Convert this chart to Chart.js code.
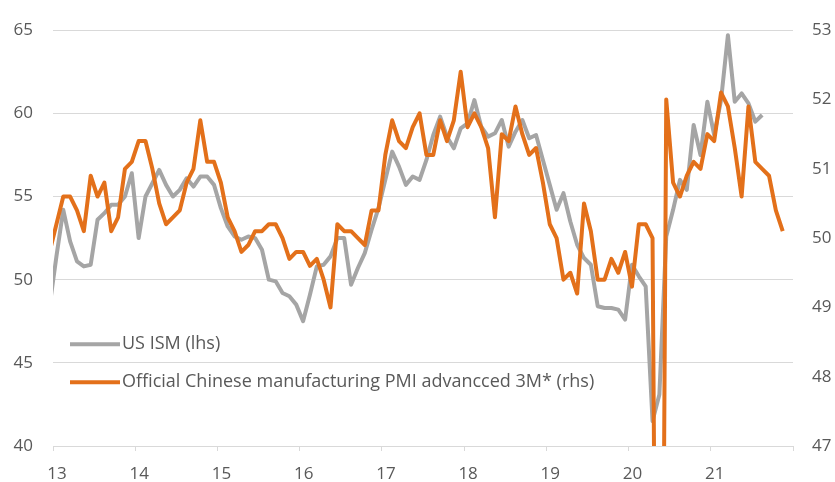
<!DOCTYPE html>
<html>
<head>
<meta charset="utf-8">
<script src="https://cdn.jsdelivr.net/npm/chart.js@4"></script>
<style>
html, body { margin: 0; padding: 0; background: #fff; }
#wrap { width: 835px; height: 482px; }
</style>
</head>
<body>
<div id="wrap"><canvas id="visu" width="835" height="482"></canvas></div>
<script>
// monthly series, first point = Dec 2012 (plotted mid-month)
const firstYear = 12;   // year on the axis, 2-digit
const firstMonth = 11;  // 0 = Jan, 11 = Dec

// US ISM manufacturing (lhs), Dec 2012 .. Aug 2021
const usIsm = [
    48.4,
    51.4, 54.2, 52.3, 51.1, 50.8, 50.9, 53.6, 54.0, 54.5, 54.5, 55.0, 56.4,
    52.5, 55.0, 55.8, 56.6, 55.7, 55.0, 55.4, 56.1, 55.6, 56.2, 56.2, 55.7,
    54.3, 53.2, 52.6, 52.4, 52.6, 52.5, 51.8, 50.0, 49.9, 49.2, 49.0, 48.5,
    47.5, 49.1, 50.8, 50.9, 51.4, 52.5, 52.5, 49.7, 50.7, 51.6, 53.0, 54.3,
    56.0, 57.7, 56.8, 55.7, 56.2, 56.0, 57.2, 58.7, 59.8, 58.6, 57.9, 59.1,
    59.4, 60.8, 59.2, 58.6, 58.8, 59.6, 58.0, 58.9, 59.6, 58.5, 58.7, 57.2,
    55.7, 54.2, 55.2, 53.5, 52.1, 51.3, 50.9, 48.4, 48.3, 48.3, 48.2, 47.6,
    50.9, 50.2, 49.6, 41.5, 43.1, 52.6, 54.2, 56.0, 55.4, 59.3, 57.5, 60.7,
    58.7, 60.8, 64.7, 60.7, 61.2, 60.6, 59.5, 59.9
];

// official China manufacturing PMI advanced 3 months (rhs), Dec 2012 .. Nov 2021
const chinaPmi = [
    49.8,
    50.2, 50.6, 50.6, 50.4, 50.1, 50.9, 50.6, 50.8, 50.1, 50.3, 51.0, 51.1,
    51.4, 51.4, 51.0, 50.5, 50.2, 50.3, 50.4, 50.8, 51.0, 51.7, 51.1, 51.1,
    50.8, 50.3, 50.1, 49.8, 49.9, 50.1, 50.1, 50.2, 50.2, 50.0, 49.7, 49.8,
    49.8, 49.6, 49.7, 49.4, 49.0, 50.2, 50.1, 50.1, 50.0, 49.9, 50.4, 50.4,
    51.2, 51.7, 51.4, 51.3, 51.6, 51.8, 51.2, 51.2, 51.7, 51.4, 51.7, 52.4,
    51.6, 51.8, 51.6, 51.3, 50.3, 51.5, 51.4, 51.9, 51.5, 51.2, 51.3, 50.8,
    50.2, 50.0, 49.4, 49.5, 49.2, 50.5, 50.1, 49.4, 49.4, 49.7, 49.5, 49.8,
    49.3, 50.2, 50.2, 50.0, 35.7, 52.0, 50.8, 50.6, 50.9, 51.1, 51.0, 51.5,
    51.4, 52.1, 51.9, 51.3, 50.6, 51.9, 51.1, 51.0, 50.9, 50.4, 50.1
];

const yearLabels = ['13', '14', '15', '16', '17', '18', '19', '20', '21'];
const legendLabels = ['US ISM (lhs)', 'Official Chinese manufacturing PMI advancced 3M* (rhs)'];

const textColor = '#595959';
const gridColor = '#d9d9d9';
const greyLine = '#a5a5a5';
const orangeLine = '#e3701a';

// x position of a month: year + mid-month fraction
function monthX(k) {
    return firstYear + (firstMonth + k + 0.5) / 12;
}
function toPoints(values) {
    return values.map((v, k) => ({ x: monthX(k), y: v }));
}

// legend drawn inside the plot area, like the original
const insideLegend = {
    id: 'insideLegend',
    afterDatasetsDraw(chart) {
        const ctx = chart.ctx;
        const area = chart.chartArea;
        const rows = [
            { color: greyLine, text: legendLabels[0], y: area.top + 314 },
            { color: orangeLine, text: legendLabels[1], y: area.top + 352 }
        ];
        ctx.save();
        ctx.font = '18px "Open Sans"';
        ctx.textBaseline = 'middle';
        rows.forEach(r => {
            ctx.strokeStyle = r.color;
            ctx.lineWidth = 4;
            ctx.beginPath();
            ctx.moveTo(area.left + 17, r.y);
            ctx.lineTo(area.left + 67, r.y);
            ctx.stroke();
            ctx.fillStyle = textColor;
            ctx.fillText(r.text, area.left + 69, r.y);
        });
        ctx.restore();
    }
};

const config = {
    type: 'line',
    data: {
        datasets: [
            {
                label: legendLabels[0],
                data: toPoints(usIsm),
                yAxisID: 'y',
                borderColor: greyLine,
                borderWidth: 4,
                pointRadius: 0,
                tension: 0,
                borderJoinStyle: 'round',
                clip: 0,
                order: 2
            },
            {
                label: legendLabels[1],
                data: toPoints(chinaPmi),
                yAxisID: 'y1',
                borderColor: orangeLine,
                borderWidth: 4,
                pointRadius: 0,
                tension: 0,
                borderJoinStyle: 'round',
                clip: 0,
                order: 1
            }
        ]
    },
    options: {
        responsive: false,
        animation: false,
        devicePixelRatio: 1,
        layout: { padding: { top: 26, left: 0, right: 0, bottom: 0 } },
        plugins: {
            legend: { display: false },
            tooltip: { enabled: false }
        },
        scales: {
            x: {
                type: 'linear',
                min: 13,
                max: 22,
                afterFit: s => { s.height = 36; },
                border: { display: true, color: gridColor, width: 1 },
                grid: { drawOnChartArea: false, drawTicks: true, tickLength: 5, color: gridColor },
                ticks: {
                    stepSize: 1,
                    padding: 13,
                    labelOffset: 4,
                    maxRotation: 0,
                    color: textColor,
                    font: { family: 'Open Sans', size: 17 },
                    callback: v => yearLabels[v - 13] || ''
                }
            },
            y: {
                position: 'left',
                min: 40,
                max: 65,
                afterFit: s => { s.width = 53; },
                border: { display: false },
                grid: { color: gridColor, drawTicks: false },
                ticks: {
                    stepSize: 5,
                    padding: 20,
                    color: textColor,
                    font: { family: 'Open Sans', size: 17 }
                }
            },
            y1: {
                position: 'right',
                min: 47,
                max: 53,
                afterFit: s => { s.width = 42; },
                border: { display: false },
                grid: { drawOnChartArea: false, drawTicks: false },
                ticks: {
                    stepSize: 1,
                    padding: 19,
                    color: textColor,
                    font: { family: 'Open Sans', size: 17 }
                }
            }
        }
    },
    plugins: [insideLegend]
};

const canvas = document.getElementById('visu');
new Chart(canvas.getContext('2d'), config);
</script>
</body>
</html>
